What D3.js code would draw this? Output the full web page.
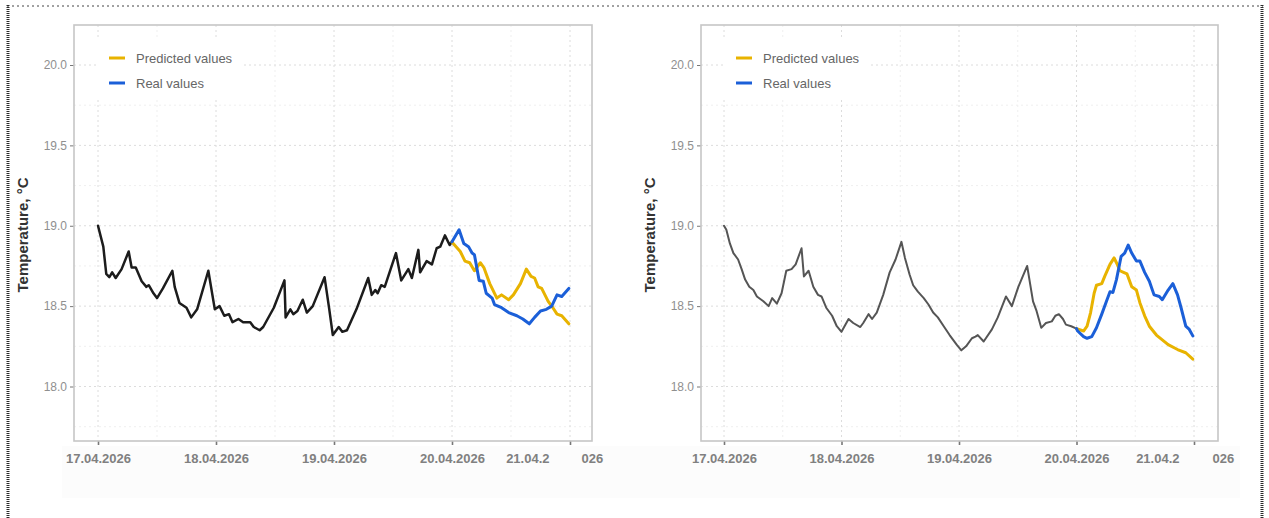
<!DOCTYPE html>
<html>
<head>
    <meta charset='utf-8'>
    <title>Temperature forecast</title>
    <style>
        body { margin: 0; background: #fff; }
        svg { display: block; font-family: "Liberation Sans", Arial, sans-serif; }
        .grid-major { stroke: #dcdcdc; stroke-width: 1; stroke-dasharray: 2,3; }
        .grid-minor { stroke: #efefef; stroke-width: 1; stroke-dasharray: 2,3; }
        .frame { fill: none; stroke: #c6c6c6; stroke-width: 1.6; }
        .line { fill: none; stroke-linejoin: round; stroke-linecap: round; }
        .y-axis text { fill: #8f8f8f; font-size: 12px; }
        .x-axis text { fill: #808080; font-size: 13px; font-weight: bold; }
        .axis line { stroke: #777; }
        .legend text { fill: #666; font-size: 13px; }
    </style>
</head>
<body>

<svg width="1269" height="518"></svg>

<script src="https://cdn.jsdelivr.net/npm/d3@7/dist/d3.min.js"></script>
<script>
    // time in days since 17.04.2026 00:00, value in °C
    const START = new Date(2026, 3, 17);
    const X_TICKS = [0, 1, 2, 3, 4];
    const X_LABELS = ['17.04.2026', '18.04.2026', '19.04.2026', '20.04.2026', '21.04.2026'];
    const Y_TICKS = [18.0, 18.5, 19.0, 19.5, 20.0];
    const SERIES = ['Predicted values', 'Real values'];
    const COLORS = ['#e8b300', '#1b5fd8'];

    const leftHistory = [
        [0, 19.0], [0.045, 18.87], [0.07, 18.70], [0.096, 18.68], [0.12, 18.71], [0.15, 18.675],
        [0.2, 18.73], [0.26, 18.84], [0.285, 18.74], [0.32, 18.74], [0.37, 18.655], [0.41, 18.62],
        [0.43, 18.63], [0.47, 18.58], [0.50, 18.55], [0.55, 18.61], [0.63, 18.72], [0.65, 18.62],
        [0.69, 18.52], [0.75, 18.49], [0.79, 18.43], [0.84, 18.48], [0.935, 18.72], [0.99, 18.48],
        [1.03, 18.50], [1.07, 18.44], [1.11, 18.45], [1.14, 18.40], [1.19, 18.42], [1.23, 18.40],
        [1.29, 18.40], [1.32, 18.37], [1.37, 18.35], [1.40, 18.37], [1.49, 18.49], [1.58, 18.66],
        [1.59, 18.43], [1.63, 18.48], [1.655, 18.45], [1.69, 18.47], [1.735, 18.54], [1.77, 18.46],
        [1.82, 18.50], [1.92, 18.68], [1.96, 18.48], [1.99, 18.32], [2.04, 18.37], [2.07, 18.34],
        [2.11, 18.35], [2.19, 18.48], [2.29, 18.675], [2.32, 18.57], [2.35, 18.60], [2.37, 18.58],
        [2.40, 18.63], [2.43, 18.62], [2.525, 18.83], [2.57, 18.66], [2.63, 18.73], [2.66, 18.675],
        [2.715, 18.85], [2.73, 18.71], [2.785, 18.78], [2.83, 18.76], [2.87, 18.86], [2.90, 18.87],
        [2.94, 18.94], [2.98, 18.88], [3.0, 18.90]
    ];
    const leftPredicted = [
        [3.0, 18.90], [3.01, 18.89], [3.07, 18.84], [3.11, 18.78], [3.15, 18.77], [3.19, 18.72],
        [3.24, 18.77], [3.27, 18.74], [3.32, 18.64], [3.38, 18.55], [3.42, 18.57], [3.48, 18.54],
        [3.52, 18.57], [3.58, 18.64], [3.63, 18.73], [3.67, 18.685], [3.70, 18.675], [3.73, 18.62],
        [3.76, 18.61], [3.815, 18.53], [3.855, 18.49], [3.89, 18.45], [3.93, 18.44], [3.99, 18.39]
    ];
    const leftReal = [
        [3.0, 18.90], [3.06, 18.975], [3.10, 18.89], [3.14, 18.87], [3.17, 18.83], [3.19, 18.82],
        [3.23, 18.66], [3.265, 18.655], [3.29, 18.58], [3.34, 18.55], [3.36, 18.51], [3.42, 18.49],
        [3.48, 18.46], [3.55, 18.44], [3.60, 18.42], [3.655, 18.39], [3.70, 18.43], [3.75, 18.47],
        [3.80, 18.48], [3.845, 18.50], [3.89, 18.57], [3.93, 18.56], [3.96, 18.585], [3.99, 18.61]
    ];

    const rightHistory = [
        [0, 19.0], [0.02, 18.975], [0.05, 18.89], [0.08, 18.83], [0.12, 18.79], [0.15, 18.73],
        [0.18, 18.665], [0.215, 18.62], [0.25, 18.60], [0.28, 18.56], [0.335, 18.53], [0.38, 18.50],
        [0.41, 18.55], [0.45, 18.515], [0.49, 18.58], [0.53, 18.72], [0.575, 18.73], [0.61, 18.76],
        [0.66, 18.86], [0.68, 18.685], [0.72, 18.72], [0.76, 18.62], [0.80, 18.57], [0.83, 18.56],
        [0.87, 18.49], [0.92, 18.44], [0.96, 18.375], [1.0, 18.34], [1.06, 18.42], [1.10, 18.395],
        [1.16, 18.37], [1.185, 18.395], [1.23, 18.45], [1.26, 18.42], [1.30, 18.46], [1.355, 18.57],
        [1.41, 18.71], [1.46, 18.79], [1.51, 18.90], [1.54, 18.80], [1.58, 18.695], [1.61, 18.63],
        [1.65, 18.59], [1.70, 18.55], [1.74, 18.51], [1.78, 18.46], [1.82, 18.43], [1.87, 18.375],
        [1.92, 18.32], [1.98, 18.26], [2.02, 18.225], [2.06, 18.25], [2.11, 18.30], [2.14, 18.31],
        [2.16, 18.32], [2.21, 18.28], [2.28, 18.355], [2.33, 18.43], [2.40, 18.56], [2.45, 18.50],
        [2.505, 18.62], [2.58, 18.75], [2.63, 18.53], [2.66, 18.47], [2.70, 18.365], [2.74, 18.395],
        [2.79, 18.405], [2.82, 18.44], [2.85, 18.45], [2.885, 18.42], [2.91, 18.385], [2.955, 18.375],
        [3.0, 18.36]
    ];
    const rightPredicted = [
        [3.0, 18.36], [3.02, 18.355], [3.06, 18.345], [3.09, 18.375], [3.12, 18.46], [3.15, 18.58],
        [3.17, 18.63], [3.215, 18.64], [3.24, 18.685], [3.285, 18.76], [3.32, 18.80], [3.34, 18.77],
        [3.37, 18.72], [3.40, 18.71], [3.43, 18.70], [3.47, 18.62], [3.51, 18.60], [3.54, 18.52],
        [3.58, 18.44], [3.62, 18.375], [3.68, 18.32], [3.73, 18.29], [3.78, 18.26], [3.86, 18.23],
        [3.93, 18.21], [3.99, 18.17]
    ];
    const rightReal = [
        [3.0, 18.36], [3.01, 18.345], [3.06, 18.31], [3.09, 18.30], [3.13, 18.31], [3.17, 18.365],
        [3.215, 18.45], [3.255, 18.53], [3.285, 18.59], [3.31, 18.585], [3.34, 18.665], [3.38, 18.81],
        [3.41, 18.83], [3.44, 18.88], [3.47, 18.83], [3.51, 18.78], [3.54, 18.78], [3.58, 18.71],
        [3.62, 18.655], [3.66, 18.57], [3.705, 18.56], [3.73, 18.54], [3.78, 18.60], [3.82, 18.64],
        [3.86, 18.57], [3.89, 18.49], [3.93, 18.375], [3.96, 18.355], [3.99, 18.315]
    ];

    const day = t => new Date(START.getTime() + t * 864e5);
    const svg = d3.select('svg');

    // faint band behind the date labels and the outer dotted frame
    svg.append('rect').attr('x', 62).attr('y', 446).attr('width', 1178).attr('height', 52).attr('fill', '#fcfcfc');
    svg.append('line').attr('x1', 7).attr('x2', 1263).attr('y1', 6).attr('y2', 6)
        .attr('stroke', '#444').attr('stroke-dasharray', '2,3');
    svg.append('line').attr('x1', 8).attr('x2', 8).attr('y1', 5).attr('y2', 518)
        .attr('stroke', '#2a2a2a').attr('stroke-width', 3).attr('stroke-dasharray', '1,1');
    svg.append('line').attr('x1', 1262).attr('x2', 1262).attr('y1', 5).attr('y2', 518)
        .attr('stroke', '#2a2a2a').attr('stroke-width', 3).attr('stroke-dasharray', '1,1');

    function drawPanel(cfg) {
        const g = svg.append('g');
        const x = d3.scaleTime().domain([day(0), day(4)]).range([cfg.t0, cfg.t4]);
        const y = d3.scaleLinear().domain([18, 20]).range([386.5, 65]);
        const top = 25, bottom = 441;

        // grid
        const minorY = [17.75, 18.25, 18.75, 19.25, 19.75];
        const minorX = [0.5, 1.5, 2.5, 3.5];
        g.selectAll('.gy2').data(minorY).enter().append('line').attr('class', 'grid-minor')
            .attr('x1', cfg.left).attr('x2', cfg.right).attr('y1', d => y(d)).attr('y2', d => y(d));
        g.selectAll('.gx2').data(minorX).enter().append('line').attr('class', 'grid-minor')
            .attr('y1', top).attr('y2', bottom).attr('x1', d => x(day(d))).attr('x2', d => x(day(d)));
        g.selectAll('.gy').data(Y_TICKS).enter().append('line').attr('class', 'grid-major')
            .attr('x1', cfg.left).attr('x2', cfg.right).attr('y1', d => y(d)).attr('y2', d => y(d));
        g.selectAll('.gx').data(X_TICKS).enter().append('line').attr('class', 'grid-major')
            .attr('y1', top).attr('y2', bottom).attr('x1', d => x(day(d))).attr('x2', d => x(day(d)));

        // legend box hides the grid behind it
        g.append('rect').attr('x', cfg.left + 22).attr('y', 40).attr('width', 148).attr('height', 60).attr('fill', '#fff');

        // axes
        const yAxis = g.append('g').attr('class', 'axis y-axis')
            .attr('transform', `translate(${cfg.left},0)`)
            .call(d3.axisLeft(y).tickValues(Y_TICKS).tickFormat(d3.format('.1f')).tickSize(4).tickPadding(3));
        yAxis.select('.domain').remove();

        const xAxis = g.append('g').attr('class', 'axis x-axis')
            .attr('transform', `translate(0,${bottom})`)
            .call(d3.axisBottom(x).tickValues(X_TICKS.map(day))
                .tickFormat((d, i) => X_LABELS[i]).tickSize(4).tickPadding(9));
        xAxis.select('.domain').remove();
        xAxis.selectAll('.tick line').attr('stroke-width', 1.6).attr('stroke', '#666');
        // last label is broken in two around its tick
        const lastTick = xAxis.selectAll('.tick').filter((d, i) => i === X_TICKS.length - 1);
        const lastLabel = X_LABELS[X_LABELS.length - 1];
        lastTick.select('text').text(lastLabel.slice(0, 7)).attr('text-anchor', 'end').attr('x', cfg.splitL);
        lastTick.append('text').attr('fill', '#808080').attr('y', 13).attr('dy', '0.71em')
            .attr('x', cfg.splitR).attr('text-anchor', 'start').text(lastLabel.slice(7));

        // frame
        g.append('rect').attr('class', 'frame')
            .attr('x', cfg.left).attr('y', top).attr('width', cfg.right - cfg.left).attr('height', bottom - top);

        // y title
        g.append('text')
            .attr('transform', `translate(${cfg.left - 46},235) rotate(-90)`)
            .attr('text-anchor', 'middle').attr('fill', '#333')
            .attr('font-size', 15).attr('font-weight', 'bold')
            .text('Temperature, °C');

        // lines
        const line = d3.line().x(d => x(day(d[0]))).y(d => y(d[1]));
        g.append('path').datum(cfg.history).attr('class', 'line')
            .attr('stroke', cfg.histColor).attr('stroke-width', cfg.histWidth).attr('d', line);
        [cfg.predicted, cfg.real].forEach((s, i) => {
            g.append('path').datum(s).attr('class', 'line')
                .attr('stroke', COLORS[i]).attr('stroke-width', 3).attr('d', line);
        });

        // legend
        const legend = g.append('g').attr('class', 'legend');
        SERIES.forEach((name, i) => {
            const ly = 58 + i * 25;
            legend.append('line').attr('x1', cfg.left + 35).attr('x2', cfg.left + 51)
                .attr('y1', ly).attr('y2', ly).attr('stroke', COLORS[i]).attr('stroke-width', 3);
            legend.append('text').attr('x', cfg.left + 62).attr('y', ly).attr('dy', '0.35em').text(name);
        });
    }

    drawPanel({
        left: 74, right: 592, t0: 98, t4: 570, splitL: -21, splitR: 11,
        history: leftHistory, predicted: leftPredicted, real: leftReal,
        histColor: '#1c1c1c', histWidth: 2.5
    });
    drawPanel({
        left: 701, right: 1218, t0: 724, t4: 1194, splitL: -15, splitR: 18,
        history: rightHistory, predicted: rightPredicted, real: rightReal,
        histColor: '#555', histWidth: 2
    });
</script>

</body>
</html>
